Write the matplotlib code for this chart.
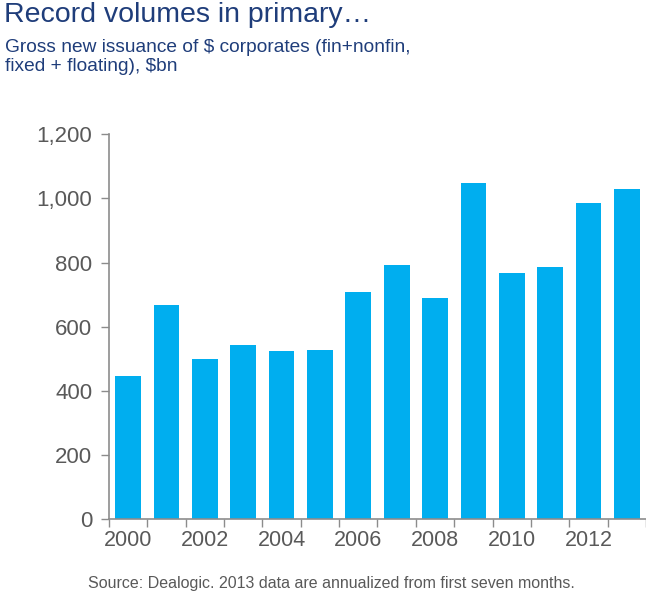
import numpy as np
import matplotlib.pyplot as plt

plt.rcParams['font.family'] = ['Liberation Sans', 'DejaVu Sans']

years = list(range(2000, 2014))
issuance = [445, 669, 500, 542, 524, 528, 709, 793, 688, 1048, 766, 785, 986, 1030]
tick_years = [2000, 2002, 2004, 2006, 2008, 2010, 2012]
yticks = [0, 200, 400, 600, 800, 1000, 1200]

bar_color = '#00AEEF'
navy = '#1F3D7A'
grey = '#595959'
spine = '#8C8C8C'

fig = plt.figure(figsize=(6.46, 5.94), dpi=100)
ax = fig.add_axes([0.1687, 0.1263, 0.8313, 0.6476])

x = np.arange(len(years))
ax.bar(x, issuance, width=0.67, color=bar_color, zorder=2)

ax.set_ylim(0, 1200)
ax.set_xlim(-0.5, 13.26)
ax.set_yticks(yticks)
ax.set_yticklabels([f'{v:,}' for v in yticks])

# labels under bars, tick marks between categories
ax.set_xticks([years.index(y) for y in tick_years])
ax.set_xticklabels([str(y) for y in tick_years])
ax.set_xticks(np.arange(-0.5, len(years), 1), minor=True)
ax.tick_params(axis='x', which='major', length=0, pad=8, labelsize=15.5, labelcolor=grey)
ax.tick_params(axis='x', which='minor', length=6, width=1, color=spine, direction='out')
ax.tick_params(axis='y', length=6, width=1, color=spine, pad=6, labelsize=16, labelcolor=grey)

for side in ['top', 'right']:
    ax.spines[side].set_visible(False)
for side in ['left', 'bottom']:
    ax.spines[side].set_color(spine)
    ax.spines[side].set_linewidth(1.2)

fig.text(0.006, 0.997, 'Record volumes in primary\u2026', fontsize=20.5, color=navy,
         ha='left', va='top')
fig.text(0.008, 0.935, 'Gross new issuance of $ corporates (fin+nonfin,\nfixed + floating), $bn',
         fontsize=13.8, color=navy, ha='left', va='top', linespacing=1.15)
fig.text(0.513, 0.005, 'Source: Dealogic. 2013 data are annualized from first seven months.',
         fontsize=11.5, color=grey, ha='center', va='bottom')

fig.savefig('out.png', dpi=100)
